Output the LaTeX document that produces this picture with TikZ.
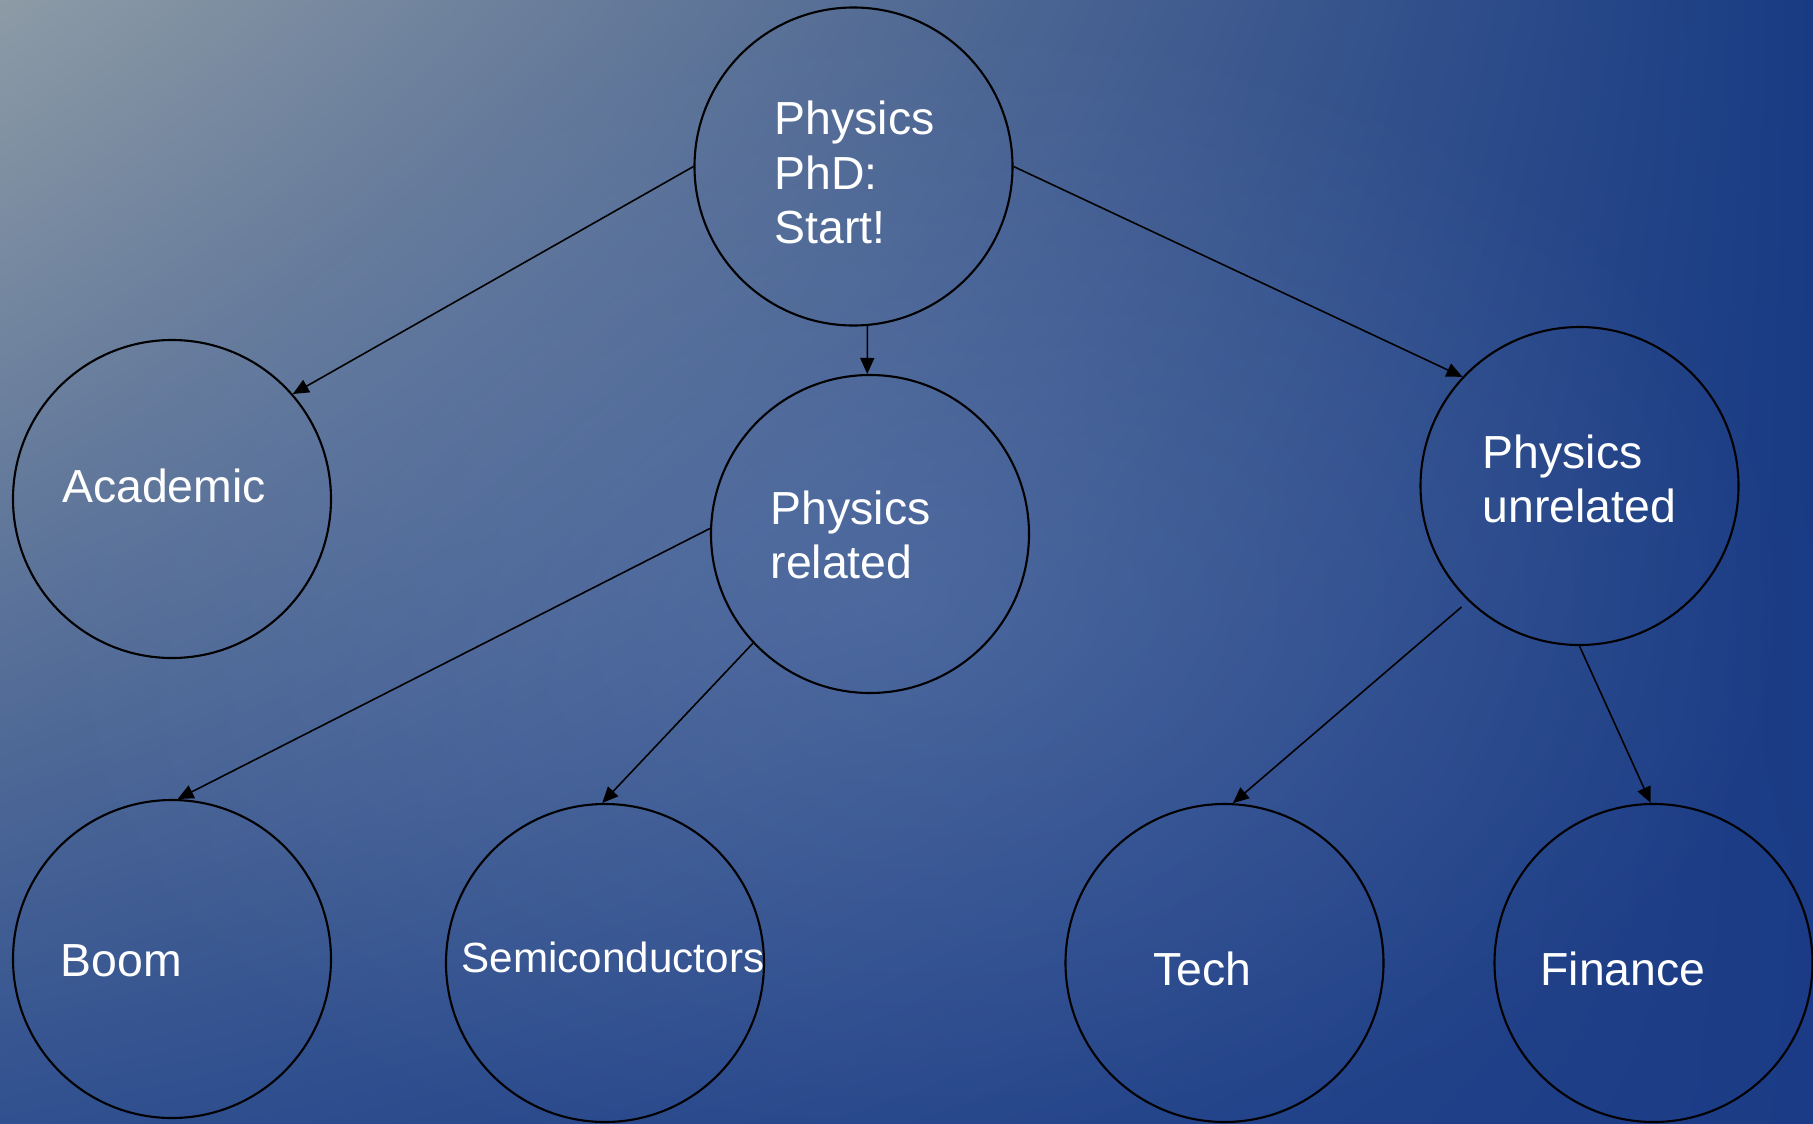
\documentclass[tikz,border=0pt]{standalone}
\usepackage{fontspec}
\setmainfont{Liberation Sans}
\usetikzlibrary{arrows.meta,shadings,fadings}

\definecolor{bgTL}{HTML}{8D9BA6}
\definecolor{bgTR}{HTML}{183B83}
\definecolor{bgBL}{HTML}{30508F}
\definecolor{bgBR}{HTML}{1B3B86}
\definecolor{bgGlow}{HTML}{7590C0}

\tikzfading[name=glowfade, inner color=transparent!70, outer color=transparent!100]

\tikzset{
  blob/.style={circle, draw=black, line width=0.6pt, minimum size=31.8mm, inner sep=0pt},
  lbl/.style={text=white, align=left, inner sep=0pt, font=\fontsize{13.2}{15.4}\selectfont},
  arr/.style={-{Triangle[length=1.6mm,width=1.4mm]}, line width=0.45pt}
}

\begin{document}
\begin{tikzpicture}
		%%%%% BACKGROUND %%%%%
		\shade[upper left=bgTL, upper right=bgTR, lower left=bgBL, lower right=bgBR] (0, 0) rectangle (18.13, -11.23);
		\begin{scope}
			\clip (0, 0) rectangle (18.13, -11.23);
			\fill[bgGlow, path fading=glowfade] (9.0, -6.0) ellipse (9 and 6);
		\end{scope}
		\useasboundingbox (0, 0) rectangle (18.13, -11.23);
		
		%%%%% START %%%%%
		\node[blob, label={[lbl, xshift=0.1mm, yshift=-0.6mm]center:{Physics\\PhD:\\Start!}}] (start) at (8.535, -1.665) {};
		
		%%%%% SECOND ROW %%%%%
		\node[blob, label={[lbl, xshift=-0.8mm, yshift=1.3mm]center:Academic}] (academic) at (1.72, -4.99) {};
		\node[blob, label={[lbl, xshift=-1.95mm, yshift=-0.1mm]center:{Physics\\related}}] (related) at (8.70, -5.34) {};
		\node[blob, label={[lbl, yshift=0.7mm]center:{Physics\\unrelated}}] (unrelated) at (15.795, -4.86) {};
		
		%%%%% THIRD ROW %%%%%
		\node[blob, label={[lbl, xshift=-5.05mm, yshift=-0.2mm]center:Boom}] (boom) at (1.72, -9.59) {};
		\node[blob, label={[lbl, font=\fontsize{12}{14}\selectfont, xshift=0.8mm, yshift=0.6mm]center:Semiconductors}] (semi) at (6.05, -9.63) {};
		\node[blob, label={[lbl, xshift=-2.2mm, yshift=-0.6mm]center:Tech}] (tech) at (12.245, -9.63) {};
		\node[blob, label={[lbl, xshift=-3.05mm, yshift=-0.6mm]center:Finance}] (finance) at (16.535, -9.63) {};
		
		%%%%% ARROWS %%%%%
		\draw[arr] (start.west) -- (academic.41);
		\draw[arr] (start.-85) -- (related.91);
		\draw[arr] (start.east) -- (unrelated.137);
		
		\draw[arr] (related.178) -- (boom.88);
		\draw[arr] (related.-137) -- (semi.91);
		
		\draw[arr, shorten <=0.9mm] (unrelated.-134) -- (tech.87);
		\draw[arr] (unrelated.-90) -- (finance.91);
		%%%%% END %%%%%
\end{tikzpicture}
\end{document}
